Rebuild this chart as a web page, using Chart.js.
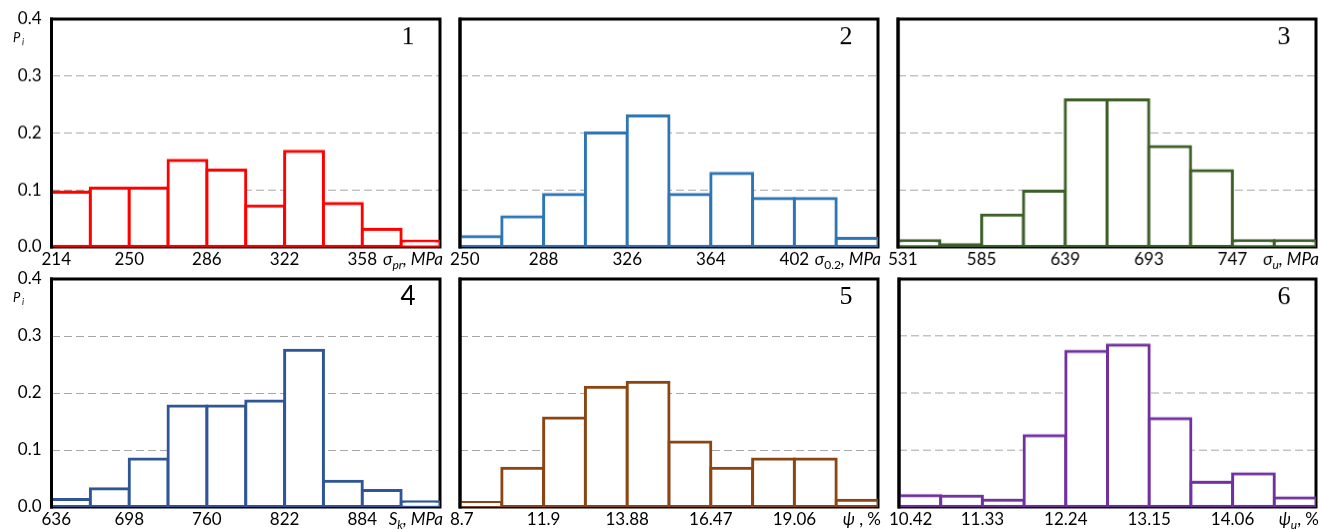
<!DOCTYPE html>
<html>
<head>
<meta charset="utf-8">
<script src="https://cdn.jsdelivr.net/npm/chart.js@4.4.0/dist/chart.umd.min.js"></script>
<style>
  html, body { margin: 0; padding: 0; background: #fff; }
  body { width: 1321px; height: 530px; position: relative; overflow: hidden; }
  .panel { position: absolute; }
</style>
</head>
<body>
<div id="panels"></div>
<script>
// relative frequencies P_i, ten bins per histogram
const sigmaPr = [0.096, 0.103, 0.103, 0.152, 0.135, 0.072, 0.168, 0.076, 0.031, 0.010]
const sigma02 = [0.018, 0.053, 0.092, 0.200, 0.230, 0.092, 0.129, 0.085, 0.085, 0.015]
const sigmaU = [0.011, 0.004, 0.056, 0.098, 0.258, 0.258, 0.176, 0.134, 0.011, 0.011]
const sK = [0.013, 0.032, 0.084, 0.177, 0.177, 0.186, 0.275, 0.045, 0.029, 0.009]
const psi = [0.008, 0.068, 0.156, 0.210, 0.219, 0.114, 0.068, 0.084, 0.084, 0.012]
const psiU = [0.020, 0.019, 0.012, 0.125, 0.273, 0.284, 0.155, 0.043, 0.058, 0.016]

// bin edge labels (every second edge)
const ticksPr = ['214', '250', '286', '322', '358']
const ticks02 = ['250', '288', '326', '364', '402']
const ticksU = ['531', '585', '639', '693', '747']
const ticksK = ['636', '698', '760', '822', '884']
const ticksPsi = ['8.7', '11.9', '13.88', '16.47', '19.06']
const ticksPsiU = ['10.42', '11.33', '12.24', '13.15', '14.06']

const yTicks = [0, 0.1, 0.2, 0.3, 0.4]
const panelNumbers = ['1', '2', '3', '4', '5', '6']

// axis titles: [text, kind] with i = italic, s = subscript, n = normal
const titlePr = [['σ', 'i'], ['pr', 'si'], [', MPa', 'i']]
const title02 = [['σ', 'i'], ['0.2', 's'], [', MPa', 'i']]
const titleU = [['σ', 'i'], ['u', 'si'], [', MPa', 'i']]
const titleK = [['S', 'i'], ['k', 'si'], [', MPa', 'i']]
const titlePsi = [['ψ', 'i'], [' , %', 'n']]
const titlePsiU = [['ψ', 'i'], ['u', 'si'], [', %', 'n']]

const FONT = 'Lato'
const TICK_FONT = '17px ' + FONT
const panels = [
  { values: sigmaPr, ticks: ticksPr, title: titlePr, color: '#ff0000', L: 51.5, T: 19, R: 440, B: 246.5, first: true, numFont: 'Liberation Serif' },
  { values: sigma02, ticks: ticks02, title: title02, color: '#2e75b6', L: 459.5, T: 19, R: 877.5, B: 246.5, numFont: 'Liberation Serif' },
  { values: sigmaU, ticks: ticksU, title: titleU, color: '#3d5f27', L: 898, T: 19, R: 1315.5, B: 246.5, numFont: 'Liberation Serif' },
  { values: sK, ticks: ticksK, title: titleK, color: '#2f5597', L: 51.5, T: 278.5, R: 440, B: 506.5, first: true, numFont: FONT },
  { values: psi, ticks: ticksPsi, title: titlePsi, color: '#8b4513', L: 460, T: 278.5, R: 878, B: 506.5, numFont: 'Liberation Serif' },
  { values: psiU, ticks: ticksPsiU, title: titlePsiU, color: '#7030a0', L: 898.5, T: 279, R: 1315.5, B: 506.5, numFont: 'Liberation Serif' },
]

function drawParts(ctx, parts, right, baseline) {
  const fontOf = kind => (kind.includes('i') ? 'italic ' : '') + (kind.includes('s') ? 12 : 17) + 'px ' + FONT
  let total = 0
  parts.forEach(([t, k]) => { ctx.font = fontOf(k); total += ctx.measureText(t).width })
  let x = right - total
  ctx.textAlign = 'left'
  ctx.textBaseline = 'alphabetic'
  parts.forEach(([t, k]) => {
    ctx.font = fontOf(k)
    ctx.fillText(t, x, baseline + (k.includes('s') ? 4 : 0))
    x += ctx.measureText(t).width
  })
}

const decor = {
  id: 'decor',
  beforeDatasetsDraw(chart) {
    const { ctx, chartArea: a } = chart
    ctx.save()
    ctx.strokeStyle = '#000'
    ctx.lineWidth = 3
    ctx.strokeRect(a.left, a.top, a.right - a.left, a.bottom - a.top)
    ctx.restore()
  },
  afterDatasetsDraw(chart) {
    // the vertical axis line sits on top of the bars
    const { ctx, chartArea: a } = chart
    ctx.save()
    ctx.strokeStyle = '#000'
    ctx.lineWidth = 3
    ctx.beginPath()
    ctx.moveTo(a.left, a.top - 1.5)
    ctx.lineTo(a.left, a.bottom + 1.5)
    ctx.stroke()
    ctx.restore()
  },
  afterDraw(chart) {
    const { ctx, chartArea: a } = chart
    const p = chart.options.plugins.decor
    ctx.save()
    ctx.fillStyle = '#000'
    // panel number
    ctx.font = '26px "' + p.numFont + '"'
    ctx.textAlign = 'center'
    ctx.textBaseline = 'middle'
    ctx.fillText(p.number, a.right - 32, a.top + 18)
    // x axis title
    drawParts(ctx, p.title, a.right + 3, a.bottom + 18)
    // P_i label
    if (p.first) {
      ctx.textAlign = 'left'
      ctx.textBaseline = 'alphabetic'
      ctx.font = 'italic 13px ' + FONT
      ctx.fillText('P', 13, a.top + 23)
      ctx.font = 'italic 9px ' + FONT
      ctx.fillText('i', 22, a.top + 26)
    }
    ctx.restore()
  }
}

const host = document.getElementById('panels')
panels.forEach((p, n) => {
  const left = p.first ? 0 : p.L - 14
  const top = p.T - 13
  const width = p.R + 8 - left
  const height = p.B + 30 - top
  const yWidth = p.L - left
  const binPx = (p.R - p.L) / 10
  const div = document.createElement('div')
  div.className = 'panel'
  div.style.cssText = `left:${left}px;top:${top}px;width:${width}px;height:${height}px`
  const canvas = document.createElement('canvas')
  canvas.width = width
  canvas.height = height
  canvas.style.width = width + 'px'
  canvas.style.height = height + 'px'
  div.appendChild(canvas)
  host.appendChild(div)

  new Chart(canvas, {
    type: 'bar',
    data: {
      datasets: [{
        data: p.values.map((v, i) => ({ x: i + 0.5, y: v })),
        // very low bins render as a solid strip, as in the source figure
        backgroundColor: c => (c.raw && c.raw.y < 0.006) ? p.color : '#ffffff',
        borderColor: p.color,
        borderWidth: 3,
        borderSkipped: false,
        inflateAmount: 1.5,
        categoryPercentage: 1,
        barPercentage: 1,
      }]
    },
    options: {
      responsive: false,
      animation: false,
      events: [],
      layout: { padding: { top: 13, right: 8, bottom: 0, left: 0 } },
      plugins: {
        legend: { display: false },
        tooltip: { enabled: false },
        decor: { number: panelNumbers[n], title: p.title, first: !!p.first, numFont: p.numFont },
      },
      scales: {
        x: {
          type: 'linear',
          min: 0,
          max: 10,
          offset: false,
          grid: { display: false, drawTicks: false, offset: false },
          border: { display: false },
          afterBuildTicks: s => {
            // first label is nudged right so it starts just left of the frame
            s.ctx.font = TICK_FONT
            const w = s.ctx.measureText(p.ticks[0]).width
            const shift = Math.max(0, w / 2 - 10) / binPx
            s.ticks = [shift, 2, 4, 6, 8].map(value => ({ value }))
          },
          ticks: {
            autoSkip: false,
            maxRotation: 0,
            padding: 2,
            color: '#000',
            font: { family: FONT, size: 17 },
            callback: (v, i) => p.ticks[i],
          },
          afterFit: s => { s.height = 30; s.paddingLeft = 0; s.paddingRight = 0 },
        },
        y: {
          min: 0,
          max: 0.4,
          afterBuildTicks: s => { s.ticks = yTicks.map(value => ({ value })) },
          grid: {
            drawTicks: false,
            lineWidth: 1,
            color: c => (c.tick && c.tick.value > 0.01 && c.tick.value < 0.39) ? '#a6a6a6' : 'rgba(0,0,0,0)',
          },
          border: { display: false, dash: [8, 4] },
          ticks: {
            display: !!p.first,
            padding: 10,
            color: '#000',
            font: { family: FONT, size: 17 },
            callback: v => v.toFixed(1),
          },
          afterFit: s => { s.width = yWidth; s.paddingTop = 0; s.paddingBottom = 0 },
        },
      },
    },
    plugins: [decor],
  })
})
</script>
</body>
</html>
